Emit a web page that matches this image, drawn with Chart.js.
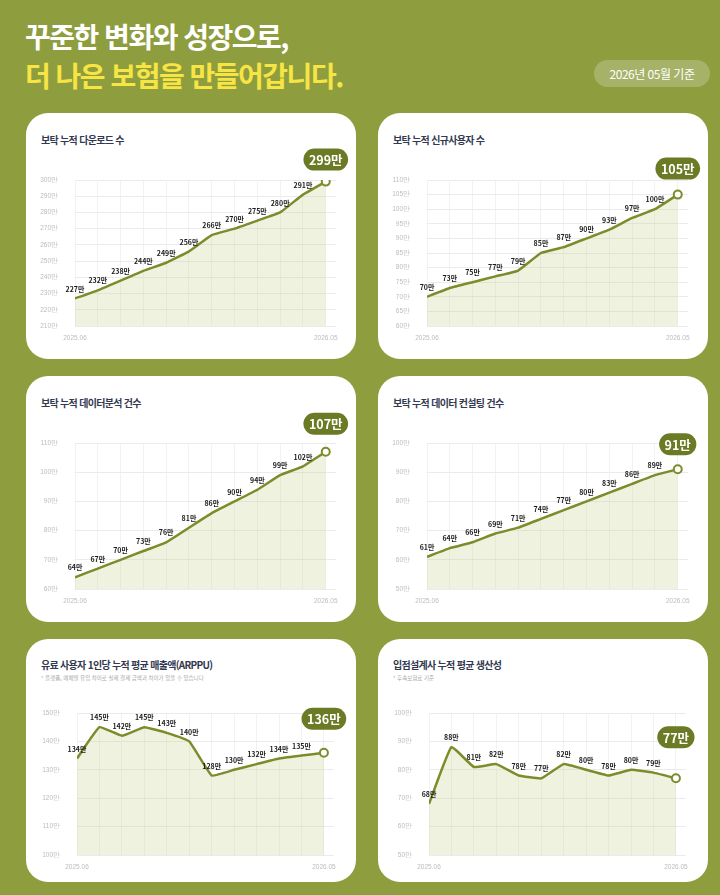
<!DOCTYPE html>
<html lang="ko">
<head>
<meta charset="utf-8">
<title>보탁 성장 지표</title>
<script src="https://cdn.jsdelivr.net/npm/chart.js@4.4.1/dist/chart.umd.min.js"></script>
<style>
  html, body { margin: 0; padding: 0; }
  body {
    width: 720px; height: 895px; position: relative; overflow: hidden;
    background: #8e9d3e;
    font-family: "Noto Sans CJK KR", "Noto Sans", sans-serif;
  }
  .head { position: absolute; left: 25px; font-size: 28px; font-weight: 700; letter-spacing: -1.5px; line-height: 32px; white-space: nowrap; }
  .head.l1 { top: 20px; color: #ffffff; }
  .head.l2 { top: 59px; color: #f7e445; }
  .pill {
    position: absolute; left: 594px; top: 60px; width: 116px; height: 27px;
    border-radius: 14px; background: rgba(255, 255, 255, 0.22);
    color: #fff; font-size: 12px; line-height: 27px; text-align: center; letter-spacing: -0.5px;
  }
  .card { position: absolute; background: #fff; border-radius: 22px; overflow: hidden; }
  .card h3 {
    position: absolute; left: 15px; margin: 0; font-size: 10px; font-weight: 700;
    color: #333950; letter-spacing: -0.7px; white-space: nowrap;
  }
  .card p { position: absolute; left: 15px; margin: 0; font-size: 5.5px; color: #a8a8a8; white-space: nowrap; }
  .card canvas { position: absolute; left: 0; top: 0; }
</style>
</head>
<body>
<div class="head l1">꾸준한 변화와 성장으로,</div>
<div class="head l2">더 나은 보험을 만들어갑니다.</div>
<div class="pill">2026년 05월 기준</div>

<script>
// Monthly cumulative figures, 2025.06 - 2026.05 (unit: 만)
const months = ["2025.06", "2025.07", "2025.08", "2025.09", "2025.10", "2025.11",
                "2025.12", "2026.01", "2026.02", "2026.03", "2026.04", "2026.05"];
const downloads = [227, 232, 238, 244, 249, 256, 266, 270, 275, 280, 291, 299];
const newUsers = [70, 73, 75, 77, 79, 85, 87, 90, 93, 97, 100, 105];
const analyses = [64, 67, 70, 73, 76, 81, 86, 90, 94, 99, 102, 107];
const consults = [61, 64, 66, 69, 71, 74, 77, 80, 83, 86, 89, 91];
const arppu = [134, 145, 142, 145, 143, 140, 128, 130, 132, 134, 135, 136];
const productivity = [68, 88, 81, 82, 78, 77, 82, 80, 78, 80, 79, 77];

// y axis [min, max, step]
const downloadsAxis = [210, 300, 10];
const newUsersAxis = [60, 110, 5];
const analysesAxis = [60, 110, 10];
const consultsAxis = [50, 100, 10];
const arppuAxis = [100, 150, 10];
const productivityAxis = [50, 100, 10];

const LINE = "#7b8d2b";
const BADGE = "#6b7a24";

// draws the value over each point and the pill badge over the last one
const valueLabels = {
  id: "valueLabels",
  afterDatasetsDraw(chart, args, opts) {
    const ctx = chart.ctx;
    const meta = chart.getDatasetMeta(0);
    const vals = chart.data.datasets[0].data;
    const last = meta.data.length - 1;
    ctx.save();
    ctx.font = "700 7px 'Noto Sans CJK KR'";
    ctx.fillStyle = "#1c1c1c";
    ctx.textAlign = "center";
    ctx.textBaseline = "bottom";
    meta.data.forEach((pt, i) => {
      if (i === last) return;
      ctx.fillText(vals[i].y + "만", pt.x, pt.y - 6);
    });

    const p = meta.data[last];
    const text = vals[last].y + "만";
    ctx.font = "700 12.5px 'Noto Sans CJK KR'";
    const w = ctx.measureText(text).width + 11, h = 22;
    const bx = p.x - w / 2, by = p.y - opts.gap - h;
    ctx.fillStyle = BADGE;
    ctx.beginPath();
    ctx.roundRect(bx, by, w, h, h / 2);
    ctx.fill();
    ctx.fillStyle = "#fff";
    ctx.textBaseline = "middle";
    ctx.fillText(text, p.x, by + h / 2 + 0.5);
    ctx.restore();
  }
};

const rowTop = [113, 376, 639];
const rowH = [246, 246, 243];
const colX = [26, 378];
const CARD_W = 330;

const specs = [
  { title: "보탁 누적 다운로드 수", values: downloads, axis: downloadsAxis, col: 0, row: 0, gap: 11 },
  { title: "보탁 누적 신규사용자 수", values: newUsers, axis: newUsersAxis, col: 1, row: 0, gap: 15 },
  { title: "보탁 누적 데이터분석 건수", values: analyses, axis: analysesAxis, col: 0, row: 1, gap: 17 },
  { title: "보탁 누적 데이터 컨설팅 건수", values: consults, axis: consultsAxis, col: 1, row: 1, gap: 14 },
  { title: "유료 사용자 1인당 누적 평균 매출액(ARPPU)", note: "* 플랫폼, 매체별 유입 차이로 실제 결제 금액과 차이가 있을 수 있습니다",
    values: arppu, axis: arppuAxis, col: 0, row: 2, gap: 23 },
  { title: "입점설계사 누적 평균 생산성", note: "* 후속보험료 기준",
    values: productivity, axis: productivityAxis, col: 1, row: 2, gap: 30 }
];

function makeCard(spec) {
  const h = rowH[spec.row];
  const card = document.createElement("div");
  card.className = "card";
  card.style.left = colX[spec.col] + "px";
  card.style.top = rowTop[spec.row] + "px";
  card.style.width = CARD_W + "px";
  card.style.height = h + "px";

  const hasNote = !!spec.note;
  const title = document.createElement("h3");
  title.textContent = spec.title;
  title.style.top = (hasNote ? 18 : 19) + "px";
  card.appendChild(title);
  if (hasNote) {
    const note = document.createElement("p");
    note.textContent = spec.note;
    note.style.top = "35px";
    card.appendChild(note);
  }

  const canvas = document.createElement("canvas");
  canvas.width = CARD_W;
  canvas.height = h;
  card.appendChild(canvas);
  document.body.appendChild(card);

  // plot box inside the card
  const plot = spec.row < 2 ? { l: 49, t: 67, r: 310, b: 213 } : { l: 51, t: 74, r: 308, b: 216 };
  const [yMin, yMax, yStep] = spec.axis;

  new Chart(canvas, {
    type: "line",
    data: {
      datasets: [{
        data: spec.values.map((v, i) => ({ x: i, y: v })),
        borderColor: LINE,
        borderWidth: 2.5,
        backgroundColor: "rgba(200, 212, 150, 0.3)",
        fill: "start",
        tension: 0.1,
        pointRadius: spec.values.map((v, i) => (i === spec.values.length - 1 ? 4 : 0)),
        pointBackgroundColor: "#fff",
        pointBorderColor: LINE,
        pointBorderWidth: 2
      }]
    },
    options: {
      responsive: false,
      animation: false,
      layout: { padding: { left: plot.l - 45, top: plot.t, right: CARD_W - plot.r, bottom: h - plot.b - 22 } },
      plugins: { legend: { display: false }, tooltip: { enabled: false }, valueLabels: { gap: spec.gap } },
      scales: {
        x: {
          type: "linear", min: 0, max: 11.45,
          afterFit(s) { s.height = 22; },
          border: { display: false },
          grid: { color: "#f2f2f2", drawTicks: false },
          ticks: {
            stepSize: 1, includeBounds: false, autoSkip: false, maxRotation: 0,
            padding: 8, color: "#bcbcbc", font: { size: 6.5 },
            callback: (v) => (v === 0 || v === months.length - 1 ? months[v] : "")
          }
        },
        y: {
          min: yMin, max: yMax,
          afterFit(s) { s.width = 45; },
          border: { display: false },
          grid: { color: "#ebebeb", drawTicks: false },
          ticks: { stepSize: yStep, padding: 17, color: "#bcbcbc", font: { size: 6.5 }, callback: (v) => v + "만" }
        }
      }
    },
    plugins: [valueLabels]
  });
}

specs.forEach(makeCard);
</script>
</body>
</html>
